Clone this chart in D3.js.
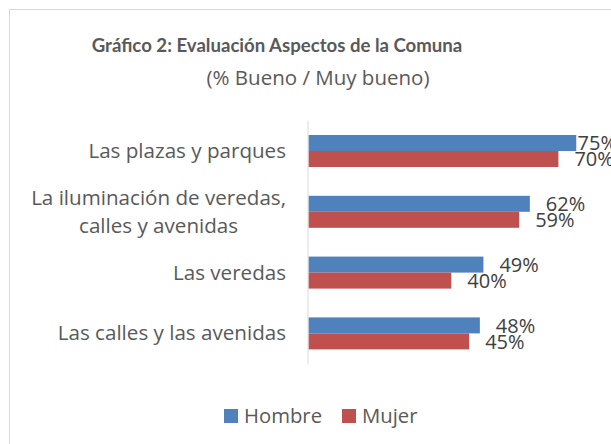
<!DOCTYPE html>
<meta charset="utf-8">
<head>
  <title>Gráfico 2: Evaluación Aspectos de la Comuna</title>
</head>

<style>
body { margin: 0; background: #fff; }
text {
  font-family: "Open Sans", sans-serif;
}
.title { font-family: Lato, "Open Sans", sans-serif; font-size: 18.6px; font-weight: bold; fill: #595959; }
.subtitle { font-size: 20.5px; fill: #595959; }
.cat { font-size: 20.6px; fill: #595959; }
.val { font-size: 20px; fill: #404040; }
.leg { font-size: 20.3px; fill: #595959; }
</style>

<body>
  <svg width="611" height="444"></svg>

  <script src="https://d3js.org/d3.v7.min.js"></script>
  <script>
var categories = [
  ["Las plazas y parques"],
  ["La iluminación de veredas,", "calles y avenidas"],
  ["Las veredas"],
  ["Las calles y las avenidas"]
];
var series = ["Hombre", "Mujer"];
var hombre = [75, 62, 49, 48];
var mujer = [70, 59, 40, 45];
var colors = ["#4f81bd", "#c0504d"];

var svg = d3.select('svg');

// chart frame (runs past the right and bottom edges)
svg.append('rect')
  .attr('x', 9.5).attr('y', 9.5)
  .attr('width', 700).attr('height', 500)
  .attr('fill', 'none')
  .attr('stroke', '#d9d9d9');

svg.append('text').attr('class', 'title')
  .attr('x', 277).attr('y', 52)
  .attr('text-anchor', 'middle')
  .text('Gráfico 2: Evaluación Aspectos de la Comuna');

svg.append('text').attr('class', 'subtitle')
  .attr('x', 318).attr('y', 85)
  .attr('text-anchor', 'middle')
  .text('(% Bueno / Muy bueno)');

var keys = d3.range(categories.length);

var y = d3.scaleBand()
  .domain(keys)
  .range([120.6, 363.8])
  .paddingInner(0.4737)
  .paddingOuter(0.4737 / 2);

var ySub = d3.scaleBand()
  .domain(series)
  .range([0, y.bandwidth()]);

var x = d3.scaleLinear()
  .domain([0, 100])
  .range([308.5, 665.5]);

var values = { "Hombre": hombre, "Mujer": mujer };

var groups = svg.append('g')
  .selectAll('g')
  .data(keys)
  .enter()
  .append('g')
  .attr('transform', function(i) { return 'translate(0,' + y(i) + ')'; });

series.forEach(function(s, si) {
  groups.append('rect')
    .attr('x', x(0))
    .attr('y', ySub(s))
    .attr('width', function(i) { return x(values[s][i]) - x(0); })
    .attr('height', ySub.bandwidth())
    .attr('fill', colors[si]);

  groups.append('text')
    .attr('class', 'val')
    .attr('y', ySub(s) + ySub.bandwidth() / 2)
    .attr('dy', '0.36em')
    .text(function(i) { return values[s][i] + '%'; })
    .attr('x', function(i) {
      var w = this.getComputedTextLength();
      return Math.min(x(values[s][i]) + 16, 617 - w);
    });
});

// axis line
svg.append('line')
  .attr('x1', x(0) - 0.5).attr('x2', x(0) - 0.5)
  .attr('y1', y.range()[0]).attr('y2', y.range()[1])
  .attr('stroke', '#d9d9d9');

// category labels, multi-line ones centred on their block
groups.each(function(i) {
  var lines = categories[i];
  var g = d3.select(this);
  var lh = 28;
  var cy = y.bandwidth() / 2 - (lines.length - 1) * lh / 2 + 7;
  var t = g.selectAll('text.cat')
    .data(lines)
    .enter()
    .append('text')
    .attr('class', 'cat')
    .attr('y', function(d, k) { return cy + k * lh; })
    .text(function(d) { return d; });
  var maxW = d3.max(t.nodes(), function(n) { return n.getComputedTextLength(); });
  t.attr('text-anchor', 'middle')
   .attr('x', 286 - maxW / 2);
});

// legend
var legend = svg.append('g');
var legX = [224, 342];
series.forEach(function(s, si) {
  legend.append('rect')
    .attr('x', legX[si]).attr('y', 409)
    .attr('width', 14).attr('height', 14)
    .attr('fill', colors[si]);
  legend.append('text').attr('class', 'leg')
    .attr('x', legX[si] + 20).attr('y', 423)
    .text(s);
});
  </script>
</body>
</html>
